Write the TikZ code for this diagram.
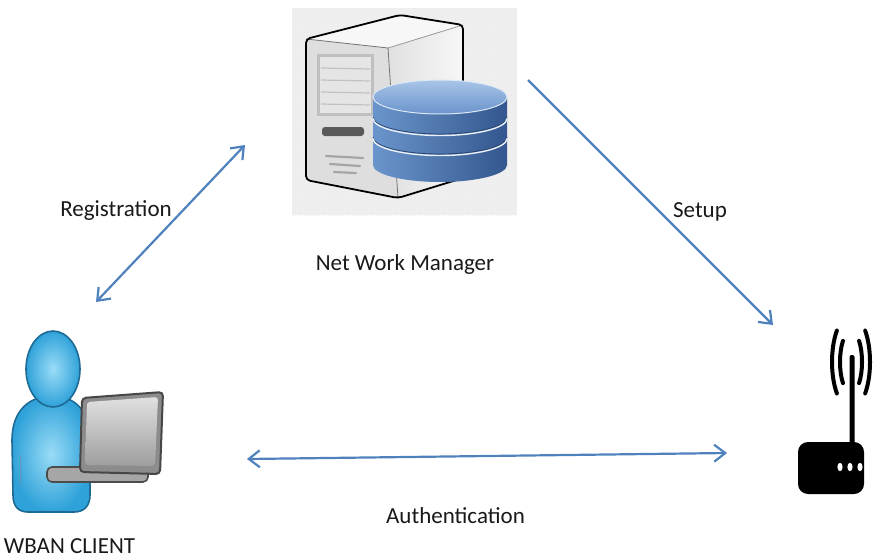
\documentclass[tikz,border=0pt]{standalone}
\usepackage{fontspec}
\setmainfont{Carlito}
\usetikzlibrary{arrows.meta,patterns}

\definecolor{linkblue}{HTML}{4F81BD}
\definecolor{dbLeft}{HTML}{6A95CC}
\definecolor{dbMid}{HTML}{5482C0}
\definecolor{dbRight}{HTML}{33578E}
\definecolor{dbTopA}{HTML}{A9C5E8}
\definecolor{dbTopB}{HTML}{6A94CC}
\definecolor{userLight}{HTML}{9ADCF7}
\definecolor{userDark}{HTML}{2FA2D9}
\definecolor{userLine}{HTML}{1D6A94}

\begin{document}
\begin{tikzpicture}[x=1pt,y=-1pt,
  link/.style={draw=linkblue, line width=2.2pt},
  lbl/.style={font=\fontsize{23}{27}\selectfont, text=black!90, inner sep=0pt, anchor=base},
  ring/.style={white!75!dbTopA, line width=1.4pt},
  wave/.style={draw=black, line width=4pt, line cap=round}]

\useasboundingbox (0,0) rectangle (874,559);

% ---------- network manager: server tower with database ----------
\fill[black!6] (292,8) rectangle (517,215);
\path[pattern=crosshatch dots, pattern color=black!9] (292,8) rectangle (517,215);

% tower faces
\fill[black!3] (306,39) -- (400,15) -- (463,25) -- (388,48) -- cycle;
\shade[left color=black!12, right color=black!3] (388,48) -- (463,25) -- (463,178) -- (398,198) -- cycle;
\fill[black!13] (306,39) -- (388,48) -- (398,198) -- (306,180) -- cycle;
\draw[black!55, line width=0.8pt] (306,39) -- (388,48) -- (398,198);
\draw[black!40, line width=0.8pt] (388,48) -- (463,25);
\draw[black, line width=1.8pt, line join=round, rounded corners=4pt]
  (306,39) -- (400,15) -- (463,25) -- (463,178) -- (398,198) -- (306,180) -- cycle;

% front panel
\fill[black!25] (317,54) rectangle (374,116);
\fill[black!10] (320,57) rectangle (371,113);
\foreach \yy in {68,80,92,104}
  \draw[black!24, line width=1.2pt] (321,\yy) -- (370,\yy+1);
\fill[black!65, rounded corners=3pt] (322,127) rectangle (364,136);
\draw[black!35, line width=2.2pt, line cap=round] (326,156) -- (363,158);
\draw[black!35, line width=2.2pt, line cap=round] (330,164) -- (360,166);
\draw[black!35, line width=2.2pt, line cap=round] (334,172) -- (356,173);

% database cylinder
\shade[left color=dbLeft, middle color=dbMid, right color=dbRight]
  (373,97) -- (373,165) arc[start angle=180, end angle=0, x radius=67, y radius=17] -- (507,97) -- cycle;
\draw[dbRight!80!black, line width=0.8pt] (373,117) arc[start angle=180, end angle=0, x radius=67, y radius=17];
\draw[ring] (373,118.5) arc[start angle=180, end angle=0, x radius=67, y radius=17];
\draw[dbRight!80!black, line width=0.8pt] (373,137) arc[start angle=180, end angle=0, x radius=67, y radius=17];
\draw[ring] (373,138.5) arc[start angle=180, end angle=0, x radius=67, y radius=17];
\shade[top color=dbTopA, bottom color=dbTopB] (440,97) ellipse[x radius=67, y radius=17];
\draw[white!60!dbTopA, line width=1pt] (440,97) ellipse[x radius=67, y radius=17];

\node[lbl] (nmLbl) at (405,270) {Net Work Manager};

% ---------- WBAN client: user with laptop ----------
\shade[inner color=userLight, outer color=userDark, draw=userLine, line width=1.6pt]
  (12,440) .. controls (12,410) and (30,396) .. (52,396)
  .. controls (76,396) and (90,412) .. (90,440) -- (90,495)
  .. controls (90,506) and (84,512) .. (74,512) -- (28,512)
  .. controls (18,512) and (13,506) .. (13,495) -- cycle;
\draw[userLine!70, line width=1pt] (20,455) -- (20,485);
\shade[inner color=userLight, outer color=userDark] (53,369) ellipse[x radius=27, y radius=38];
\draw[userLine, line width=1.6pt] (53,369) ellipse[x radius=27, y radius=38];

% laptop
\filldraw[fill=black!35, draw=black!70, line width=1.6pt, rounded corners=5pt]
  (47,467) rectangle (148,482);
\filldraw[fill=black!45, draw=black!72, line width=2pt, rounded corners=4pt]
  (82,398) -- (163,392) -- (160,474) -- (80,472) -- cycle;
\shade[top color=black!12, bottom color=black!38, rounded corners=3pt]
  (87,402) -- (158,397) -- (155,466) -- (85,465) -- cycle;

\node[lbl] (clientLbl) at (69.5,553) {WBAN CLIENT};

% ---------- access point ----------
\fill[black, rounded corners=10pt] (798,442) rectangle (864,494);
\fill[black, rounded corners=2pt] (849.5,355) rectangle (854.5,446);
\draw[wave] (851,362) ++(138:19 and 47) arc[start angle=138, end angle=222, x radius=19, y radius=47];
\draw[wave] (851,362) ++(-42:19 and 47) arc[start angle=-42, end angle=42, x radius=19, y radius=47];
\draw[wave] (851,362) ++(137:11 and 31) arc[start angle=137, end angle=223, x radius=11, y radius=31];
\draw[wave] (851,362) ++(-43:11 and 31) arc[start angle=-43, end angle=43, x radius=11, y radius=31];
\foreach \xx in {840,850,860}
  \fill[white] (\xx,467) ellipse[x radius=2.6, y radius=4.2];

% ---------- links ----------
\coordinate (regClient) at (96,302);
\coordinate (regServer) at (245,145);
\coordinate (setServer) at (528,80);
\coordinate (setAP) at (773,325);
\coordinate (authClient) at (247,459);
\coordinate (authAP) at (727,453);

\draw[link, {Straight Barb[length=11pt,width=17pt]}-{Straight Barb[length=11pt,width=17pt]}] (regClient) -- (regServer);
\draw[link, -{Straight Barb[length=11pt,width=17pt]}] (setServer) -- (setAP);
\draw[link, {Straight Barb[length=11pt,width=17pt]}-{Straight Barb[length=11pt,width=17pt]}] (authClient) -- (authAP);

\node[lbl] (regLbl) at (116,216) {Registration};
\node[lbl] (setLbl) at (700,217) {Setup};
\node[lbl] (authLbl) at (455.5,523) {Authentication};
\end{tikzpicture}
\end{document}
